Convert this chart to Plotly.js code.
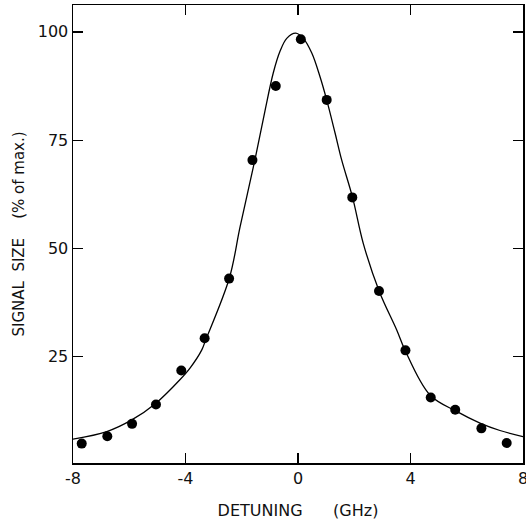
<!DOCTYPE html>
<html>
<head>
<meta charset="utf-8">
<script src="https://cdn.plot.ly/plotly-3.0.1.min.js"></script>
<style>html,body{margin:0;padding:0;background:#fff;}#chart{width:526px;height:523px;}</style>
</head>
<body>
<div id="chart"></div>
<script>
// Measured data points (detuning in GHz, signal in % of max)
const pointDetuning = [-7.69, -6.78, -5.90, -5.05, -4.15, -3.32, -2.45, -1.62, -0.79, 0.10, 1.02, 1.93, 2.88, 3.82, 4.72, 5.59, 6.52, 7.42];
const pointSignal   = [4.98, 6.69, 9.53, 13.99, 21.83, 29.31, 43.06, 70.4, 87.5, 98.3, 84.3, 61.8, 40.2, 26.5, 15.6, 12.8, 8.5, 5.1];

// Fitted curve
const curveDetuning = [-8.0, -6.80, -5.91, -5.05, -4.20, -3.84, -3.42, -3.30, -2.44, -2.06, -1.53, -1.17, -0.88, -0.64, -0.40, -0.08, 0.19, 0.49, 0.78, 1.02, 1.32, 1.55, 1.94, 2.32, 2.89, 3.51, 3.80, 4.69, 5.64, 6.47, 7.18, 8.0];
const curveSignal   = [6.0, 7.75, 10.45, 14.3, 19.7, 22.4, 26.6, 28.6, 43.2, 55.0, 70.5, 81.9, 90.5, 95.5, 98.5, 99.7, 98.5, 95.1, 89.7, 84.3, 76.6, 70.5, 61.8, 51.2, 40.1, 31.2, 26.6, 16.2, 12.4, 9.7, 8.0, 6.6];

const xTicks = [-8, -4, 0, 4, 8];
const xTickLabels = ['-8', '-4', '0', '4', '8'];
const yTicks = [25, 50, 75, 100];
const yTickLabels = ['25', '50', '75', '100'];

const fontFam = 'DejaVu Sans, Liberation Sans, sans-serif';
const NB = '\u00A0';

const traces = [
  {
    x: curveDetuning, y: curveSignal, mode: 'lines', type: 'scatter',
    line: {color: '#000', width: 1.3, shape: 'spline', smoothing: 1.0},
    hoverinfo: 'skip', showlegend: false
  },
  {
    x: pointDetuning, y: pointSignal, mode: 'markers', type: 'scatter',
    marker: {color: '#000', size: 10},
    showlegend: false
  }
];

const layout = {
  width: 526, height: 523,
  margin: {l: 73, r: 3, t: 5, b: 60},
  paper_bgcolor: '#fff', plot_bgcolor: '#fff',
  showlegend: false,
  font: {family: fontFam, color: '#111', size: 15},
  xaxis: {
    range: [-8, 8],
    tickvals: xTicks, ticktext: xTickLabels,
    ticks: 'inside', ticklen: 10, tickwidth: 1.3, tickcolor: '#000',
    showline: true, linecolor: '#000', linewidth: 1.5, mirror: 'ticks',
    showgrid: false, zeroline: false,
    ticklabeloverflow: 'allow',
    tickfont: {family: fontFam, size: 16, color: '#111'},
    title: {text: 'DETUNING' + NB.repeat(6) + '(GHz)', font: {family: fontFam, size: 16, color: '#111'}, standoff: 18}
  },
  yaxis: {
    range: [0.5, 106.2],
    tickvals: yTicks, ticktext: yTickLabels,
    ticks: 'inside', ticklen: 10, tickwidth: 1.3, tickcolor: '#000',
    showline: true, linecolor: '#000', linewidth: 1.5, mirror: 'ticks',
    showgrid: false, zeroline: false,
    tickfont: {family: fontFam, size: 16, color: '#111'},
    title: {text: 'SIGNAL' + NB.repeat(2) + 'SIZE' + NB.repeat(4) + '(%' + NB + 'of' + NB + 'max.)' + NB.repeat(3), font: {family: fontFam, size: 15, color: '#111'}, standoff: 9}
  }
};

Plotly.newPlot('chart', traces, layout, {displayModeBar: false, staticPlot: true});
</script>
</body>
</html>
